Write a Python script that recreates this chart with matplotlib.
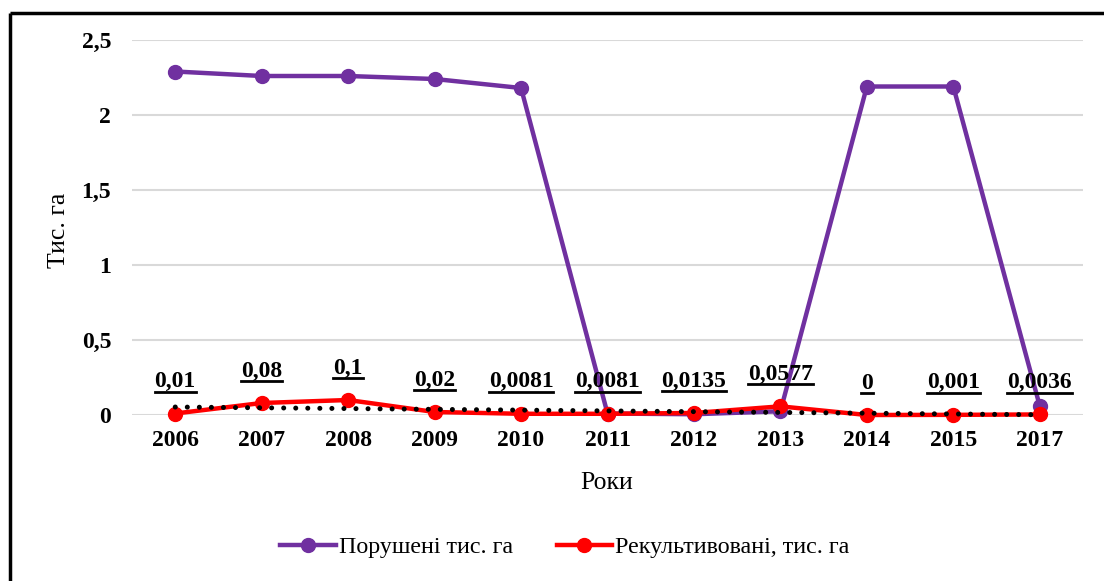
import matplotlib
matplotlib.use('Agg')
import matplotlib.pyplot as plt
from matplotlib.lines import Line2D
import numpy as np

years = ['2006', '2007', '2008', '2009', '2010', '2011', '2012', '2013', '2014', '2015', '2017']
porusheni = [2.29, 2.26, 2.26, 2.24, 2.18, 0.01, 0.005, 0.025, 2.19, 2.19, 0.06]
rekult = [0.01, 0.08, 0.1, 0.02, 0.0081, 0.0081, 0.0135, 0.0577, 0, 0.001, 0.0036]
rekult_labels = ['0,01', '0,08', '0,1', '0,02', '0,0081', '0,0081', '0,0135', '0,0577', '0', '0,001', '0,0036']
yticks = [0, 0.5, 1, 1.5, 2, 2.5]
ytick_labels = ['0', '0,5', '1', '1,5', '2', '2,5']

plt.rcParams['font.family'] = ['Liberation Serif', 'DejaVu Serif']

fig = plt.figure(figsize=(11.04, 5.81), dpi=100)
W, H = 1104, 581
ax = fig.add_axes([132 / W, 1 - 415 / H, (1083 - 132) / W, (415 - 40) / H])

x = np.arange(len(years))
ax.plot(x, porusheni, color='#7030A0', lw=3.2, marker='o', ms=10,
        label='Порушені тис. га', clip_on=False, zorder=3)
ax.plot(x, rekult, color='#FF0000', lw=3.2, marker='o', ms=10,
        label='Рекультивовані, тис. га', clip_on=False, zorder=4)

# linear trendline of the reclaimed series
k, b = np.polyfit(x, rekult, 1)
ax.plot(x, k * x + b, color='black', lw=3.6, linestyle=(0, (0.01, 2.4)),
        dash_capstyle='round', zorder=5, clip_on=False)

ax.set_xlim(-0.5, len(years) - 0.5)
ax.set_ylim(0, 2.5)
ax.set_xticks(x)
ax.set_xticklabels(years, fontweight='bold', fontsize=17)
ax.set_yticks(yticks)
ax.set_yticklabels(ytick_labels, fontweight='bold', fontsize=17)
ax.tick_params(length=0)
ax.tick_params(axis='x', pad=11)
ax.tick_params(axis='y', pad=15)
for s in ax.spines.values():
    s.set_visible(False)
ax.grid(axis='y', color='#d9d9d9', lw=1.5)
ax.set_axisbelow(True)

fig.text(59 / W, 1 - 230 / H, 'Тис. га', fontsize=18.5, rotation=90, ha='center', va='center')
fig.text(607 / W, 1 - 483 / H, 'Роки', fontsize=18.5, ha='center', va='center')

labels = []
for xi, yi, t in zip(x, rekult, rekult_labels):
    a = ax.annotate(t, (xi, yi), xytext=(0, 23), textcoords='offset points',
                    ha='center', va='center', fontsize=17, fontweight='bold', zorder=6)
    labels.append(a)

ax.legend(loc='center', bbox_to_anchor=(565 / W, 1 - 547 / H), bbox_transform=fig.transFigure,
          ncol=2, frameon=False, fontsize=17.3, handlelength=2.33, columnspacing=1.8,
          handletextpad=0.12)

# underline the data labels
fig.canvas.draw()
r = fig.canvas.get_renderer()
for a in labels:
    bb = a.get_window_extent(r)
    yl = (bb.y0 + 0.5) / H
    fig.add_artist(Line2D([bb.x0 / W, bb.x1 / W], [yl, yl], color='black', lw=2.0,
                          transform=fig.transFigure))

# outer frame (top and left edges visible)
fig.add_artist(Line2D([9.5 / W, 1.0], [1 - 13 / H, 1 - 13 / H], color='black', lw=2.5,
                      transform=fig.transFigure, solid_capstyle='butt'))
fig.add_artist(Line2D([9.5 / W, 9.5 / W], [0, 1 - 13 / H], color='black', lw=2.5,
                      transform=fig.transFigure, solid_capstyle='butt'))

fig.savefig('out.png', dpi=100)
